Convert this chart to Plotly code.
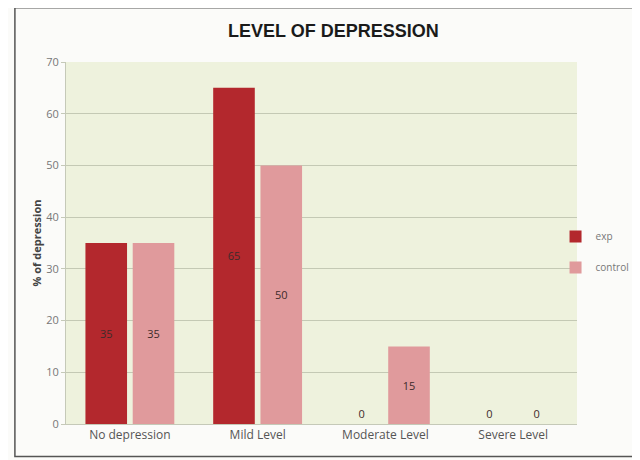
import plotly.graph_objects as go

categories = ["No depression", "Mild Level", "Moderate Level", "Severe Level"]
exp_vals = [35, 65, 0, 0]
control_vals = [35, 50, 15, 0]
series_names = ["exp", "control"]
y_ticks = [0, 10, 20, 30, 40, 50, 60, 70]

colors = ["#b3282d", "#e09a9c"]

fig = go.Figure()
for name, vals, col in zip(series_names, [exp_vals, control_vals], colors):
    fig.add_trace(go.Bar(
        x=categories, y=vals, name=name, legendgroup=name,
        marker=dict(color=col, line=dict(width=0)),
        text=[str(v) for v in vals],
        textposition=["inside" if v > 0 else "outside" for v in vals],
        insidetextanchor="middle",
        textfont=dict(family="Open Sans", size=11, color="#3d2b2b"),
        cliponaxis=False,
    ))

# page body has an 8px margin, so the figure is sized to fit the window
fig.update_layout(
    width=632, height=452,
    margin=dict(l=58, r=63, t=54, b=36, autoexpand=False),
    paper_bgcolor="#fbfbf9",
    plot_bgcolor="#eef2dd",
    barmode="group",
    bargap=0.26,
    bargroupgap=0.12,
    title=dict(text="<b>LEVEL OF DEPRESSION</b>", x=0.515, xanchor="center",
               y=0.95, yanchor="middle",
               font=dict(family="Liberation Sans", size=18, color="#1a1a1a")),
    legend=dict(x=0.958, xanchor="left", y=0.475, yanchor="middle",
                bgcolor="rgba(0,0,0,0)", itemwidth=30,
                font=dict(family="Open Sans", size=10, color="#777"),
                tracegroupgap=12),
    font=dict(family="Open Sans"),
    showlegend=True,
)
fig.update_xaxes(
    tickfont=dict(family="Open Sans", size=12, color="#555"),
    showline=True, linecolor="#c5c9b8", linewidth=1,
    ticks="", showgrid=False, automargin=False,
)
fig.update_yaxes(
    range=[0, 70], tickvals=y_ticks, automargin=False,
    tickfont=dict(family="Open Sans", size=11, color="#777"),
    gridcolor="#c4c9b4", gridwidth=1,
    showline=True, linecolor="#c5c9b8", linewidth=1,
    zeroline=False, ticks="outside", ticklen=4, tickcolor="#c5c9b8",
    title=dict(text="<b>% of depression</b>", standoff=2,
               font=dict(family="Open Sans", size=11, color="#444")),
)
fig.add_shape(type="rect", xref="paper", yref="paper",
              x0=-0.1, x1=1.11, y0=-0.09, y1=1.15,
              line=dict(color="#555", width=1.5), fillcolor="rgba(0,0,0,0)",
              layer="below")

fig.write_html("out.html")
